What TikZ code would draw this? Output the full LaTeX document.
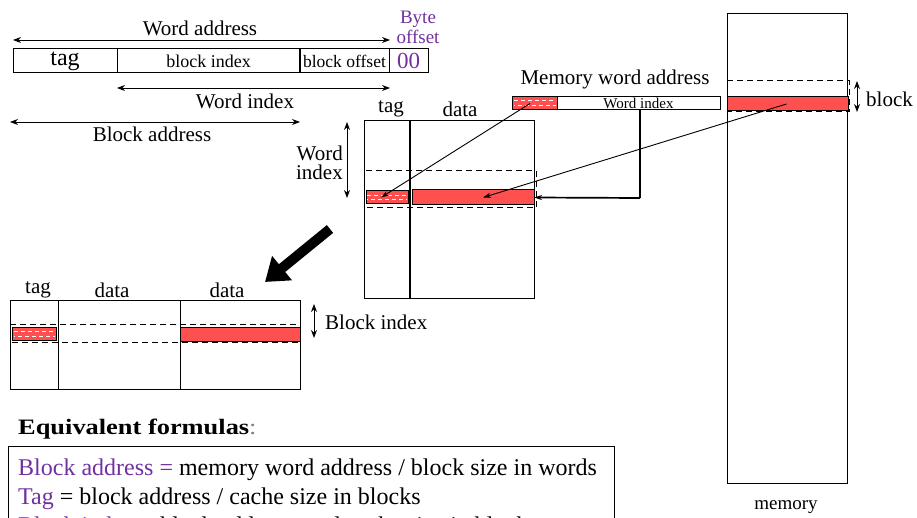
\documentclass[tikz,border=0pt]{standalone}
\usepackage{fontspec}
\setmainfont{Liberation Serif}
\usetikzlibrary{arrows.meta}
\definecolor{cellred}{RGB}{255,80,80}
\definecolor{purp}{RGB}{112,48,160}
\newcommand{\fs}[1]{\fontsize{#1}{#1}\selectfont}
\begin{document}
\begin{tikzpicture}[x=1pt,y=-1pt,
  box/.style={draw, line width=1pt, inner sep=0pt, outer sep=0pt, anchor=north west},
  redcell/.style={box, fill=cellred},
  rowband/.style={draw, line width=1pt, dash pattern=on 6pt off 4pt},
  dim/.style={line width=0.9pt, {Stealth[length=8pt,width=6pt]}-{Stealth[length=8pt,width=6pt]}},
  ptr/.style={line width=0.9pt, -{Stealth[length=8pt,width=5pt]}},
  lbl/.style={inner sep=0pt, font=\fs{21}},
  fline/.style={inner sep=0pt, anchor=base west, font=\fs{24}},
  dashes/.style={white, line width=1pt, dash pattern=on 4pt off 3pt}]
\useasboundingbox (0,0) rectangle (917,518);
\clip (0,0) rectangle (917,518);

% ---------- address fields ----------
\node[box, minimum width=104pt, minimum height=24pt, font=\fs{24}] (ftag) at (13,49) {tag};
\node[box, minimum width=183pt, minimum height=24pt, font=\fs{18}] (fidx) at (117,49) {block index};
\node[box, minimum width=89pt, minimum height=24pt, font=\fs{17.5}] (foff) at (300,49) {block offset};
\node[box, minimum width=39pt, minimum height=24pt, font=\fs{23}, text=purp] (fbyte) at (389,49) {00};
\draw[line width=2pt] (foff.north west) -- (foff.south west);
\node[inner sep=0pt, align=center, text=purp, font=\fontsize{19}{20}\selectfont] (byteoff) at (418,27) {Byte\\offset};

\coordinate (wa1) at (13,40);  \coordinate (wa2) at (390,40);
\draw[dim] (wa1) -- (wa2);
\node[lbl] (walbl) at (200,28) {Word address};
\coordinate (wi1) at (117,88); \coordinate (wi2) at (390,88);
\draw[dim] (wi1) -- (wi2);
\node[lbl] (wilbl) at (245,101) {Word index};
\coordinate (ba1) at (10,122); \coordinate (ba2) at (300,122);
\draw[dim] (ba1) -- (ba2);
\node[lbl] (balbl) at (152,134) {Block address};

% ---------- direct-mapped cache (one word per block) ----------
\node[box, minimum width=170pt, minimum height=177pt] (cache) at (364,121) {};
\draw[line width=2pt] (410,121) -- (410,298);
\node[lbl] (ctag) at (391,109) {tag};
\node[lbl] (cdata) at (460,109) {data};
\draw[rowband] (364,171) rectangle (536,208);
\node[redcell, minimum width=42pt, minimum height=13pt] (ctagcell) at (366,191) {};
\draw[dashes] (367,195.5) -- (407,195.5);
\draw[dashes, dash phase=3pt] (367,200) -- (407,200);
\node[redcell, minimum width=122pt, minimum height=15pt] (cdatacell) at (412,190) {};
\coordinate (cw1) at (347,122); \coordinate (cw2) at (347,198);
\draw[dim] (cw1) -- (cw2);
\node[inner sep=0pt, align=right, font=\fontsize{21}{19}\selectfont, anchor=east] (cwlbl) at (343,163) {Word\\index};

% ---------- memory word address ----------
\node[lbl] (mwalbl) at (615,79) {Memory word address};
\node[redcell, minimum width=45pt, minimum height=13pt] (mwtag) at (512,97) {};
\draw[dashes] (514,101) -- (556,101);
\draw[dashes, dash phase=3pt] (514,106) -- (556,106);
\node[box, minimum width=163pt, minimum height=13pt, font=\fs{15}] (mwidx) at (557,97) {Word index};

% ---------- main memory ----------
\node[box, minimum width=120pt, minimum height=469pt] (mem) at (727,14) {};
\draw[rowband] (727,81) rectangle (849,112);
\node[redcell, minimum width=121pt, minimum height=14pt] (memblk) at (727,97) {};
\coordinate (mb1) at (857,81); \coordinate (mb2) at (857,112);
\draw[dim] (mb1) -- (mb2);
\node[lbl, anchor=west] (blklbl) at (866,99) {block};
\node[inner sep=0pt, font=\fs{19}] (memlbl) at (786,507) {memory};

% ---------- pointers ----------
\coordinate (mwidxdrop) at (640,198);
\draw[line width=1.7pt] (mwidx.south -| mwidxdrop) -- (mwidxdrop);
\draw[ptr, line width=1.7pt] (mwidxdrop) -- (cdatacell.east);
\draw[ptr] ([xshift=-27pt]mwtag.east) -- ([xshift=-6pt]ctagcell.center);
\draw[ptr] ([xshift=-1pt]memblk.center) -- ([xshift=10pt]cdatacell.center);

% ---------- big transition arrow ----------
\coordinate (bigA) at (330,229);
\coordinate (bigB) at (265,282);
\draw[line width=10pt, -{Triangle[length=22pt,width=30pt]}] (bigA) -- (bigB);

% ---------- multi-word block cache ----------
\node[box, minimum width=290pt, minimum height=89pt] (bcache) at (10,300) {};
\draw[line width=1pt] (58,300) -- (58,389);
\draw[line width=1pt] (180,300) -- (180,389);
\node[lbl] (btag) at (38,290) {tag};
\node[lbl] (bdata1) at (112,290) {data};
\node[lbl] (bdata2) at (227,290) {data};
\draw[rowband] (10,324) rectangle (300,342);
\node[redcell, minimum width=44pt, minimum height=13pt] (btagcell) at (12,327) {};
\draw[dashes] (14,331) -- (55,331);
\draw[dashes, dash phase=3pt] (14,336) -- (55,336);
\node[redcell, minimum width=120pt, minimum height=14pt] (bdatacell) at (180,327) {};
\coordinate (bb1) at (314,304); \coordinate (bb2) at (314,338);
\draw[dim] (bb1) -- (bb2);
\node[lbl, anchor=west] (bilbl) at (325,322) {Block index};

% ---------- formulas ----------
\node[inner sep=0pt, anchor=base west, font=\fs{22}] (eqhead) at (18,434)
  {\scalebox{1.2}[1]{\textbf{Equivalent formulas}\textcolor{gray}{:}}};
\node[box, minimum width=606pt, minimum height=100pt] (eqbox) at (8,446) {};
\node[fline] (eq1) at (18,475) {\textcolor{purp}{Block address =} memory word address / block size in words};
\node[fline] (eq2) at (18,504) {\textcolor{purp}{Tag} = block address / cache size in blocks};
\node[fline] (eq3) at (18,533) {\textcolor{purp}{Block index} = block address mod cache size in blocks};
\end{tikzpicture}
\end{document}
